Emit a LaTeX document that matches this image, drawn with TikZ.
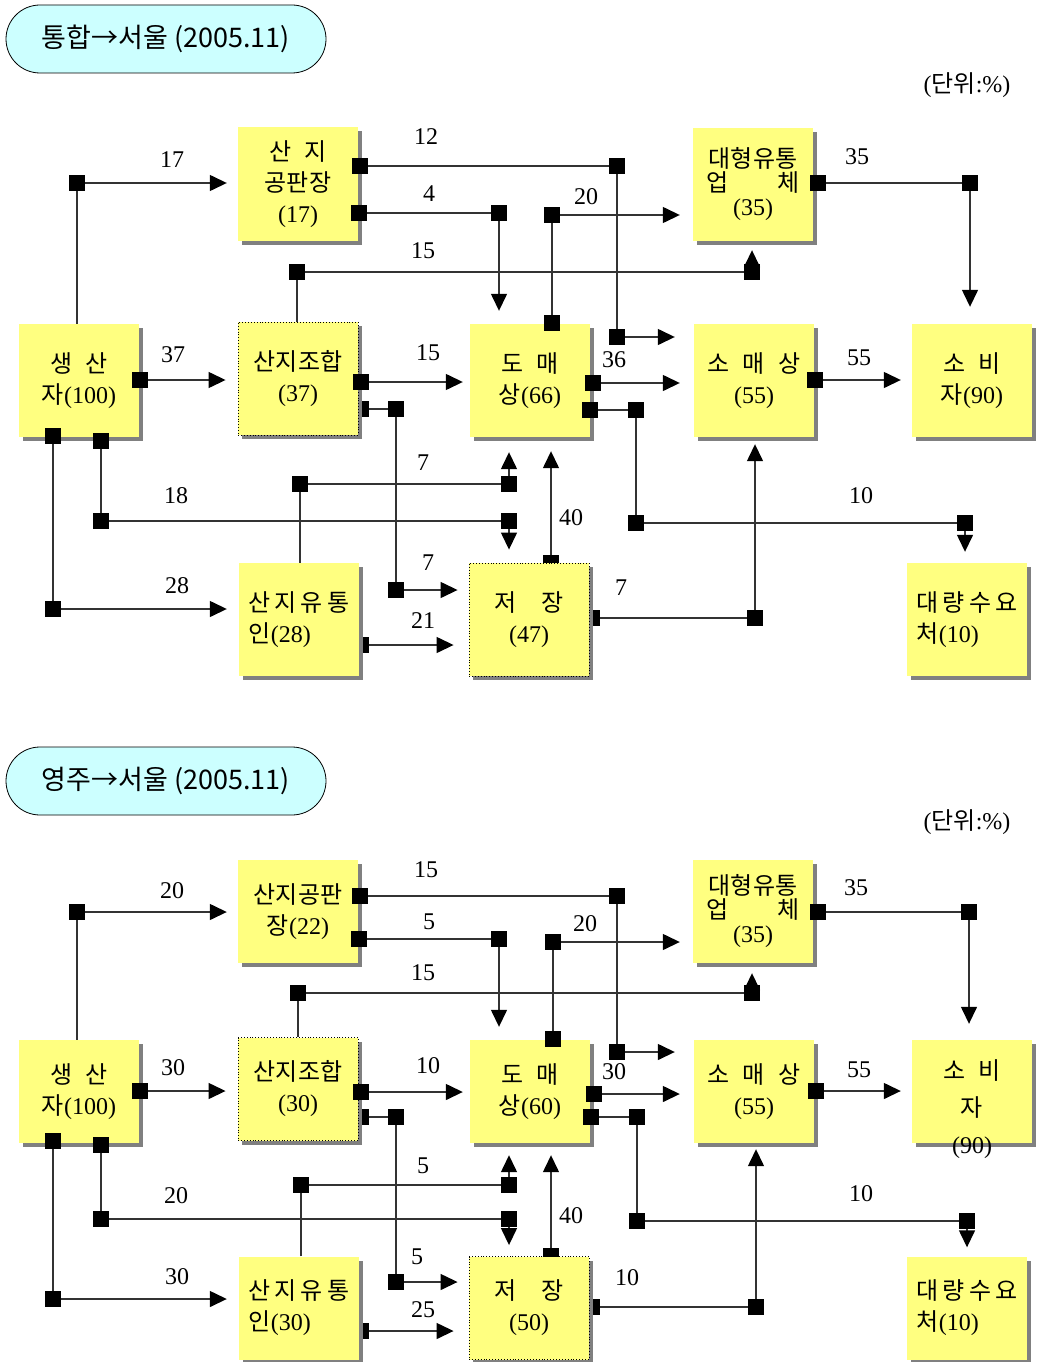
\documentclass[tikz,border=0pt]{standalone}
\usepackage{fontspec}
\setmainfont{Liberation Serif}
\newfontfamily\hangul{Noto Sans CJK KR}
\usetikzlibrary{arrows.meta,shadows}

\newcommand\ko[1]{{\hangul #1}}
\newcommand\gap{\hspace{.55em}}

\definecolor{boxyellow}{RGB}{255,255,128}
\definecolor{shadegray}{RGB}{128,128,128}
\definecolor{pillcyan}{RGB}{204,255,255}

\tikzset{
  box/.style={fill=boxyellow, minimum width=120pt, minimum height=#1, inner sep=0pt,
    align=center, font=\fontsize{24}{31}\selectfont,
    general shadow={fill=shadegray, shadow xshift=4pt, shadow yshift=-4pt}},
  box/.default=113pt,
  dotbox/.style={draw=black, dotted, line width=0.9pt},
  sq/.style={fill=black, inner sep=0pt, minimum size=16pt},
  link/.style={draw=black!80, line width=1.4pt},
  arr/.style={link, -{Triangle[length=17pt,width=16pt,color=black]}},
  num/.style={inner sep=0pt, font=\fontsize{24}{28}\selectfont},
  pill/.style={draw=black, line width=0.8pt, fill=pillcyan, rounded corners=34pt,
    minimum width=320pt, minimum height=68pt, font=\hangul\fontsize{27}{30}\selectfont},
  unit/.style={inner sep=0pt, font=\fontsize{24}{28}\selectfont}
}

\begin{document}
\begin{tikzpicture}[x=1pt,y=-1pt]
\useasboundingbox (0,0) rectangle (1037,1362);

%%%%%%%%%%%%%%%% upper chart
\node[pill] (ttl1) at (166,39) {통합→서울 (2005.11)};
\node[unit] (unit1) at (967,85) {(\ko{단위}:\%)};

% markers that sit behind the boxes
\node[sq] (coopT1) at (361,409) {};
\node[sq] (tradT1) at (361,645) {};
\node[sq] (stT1) at (551,563) {};
\node[sq] (stR1) at (592,618) {};

\node[box] (prod1) at (79,380.5) {\ko{생\gap 산}\\\ko{자}(100)};
\node[box] (pan1) at (298,184) {\ko{산\gap 지}\\\ko{공판장}\\(17)};
\node[box, dotbox] (coop1) at (298,378.5) {\ko{산지조합}\\(37)};
\node[box, align=left] (trad1) at (299,619.5) {\ko{산\,지\,유\,통}\\\ko{인}(28)};
\node[box] (whole1) at (530,380.5) {\ko{도\gap 매}\\\ko{상}(66)};
\node[box, dotbox] (store1) at (529,619.5) {\ko{저\hspace{1em}장}\\(47)};
\node[box, font=\fontsize{24}{24}\selectfont] (large1) at (753,184.5) {\ko{대형유통}\\\ko{업\hspace{2em}체}\\(35)};
\node[box] (retail1) at (754,380.5) {\ko{소\gap 매\gap 상}\\(55)};
\node[box] (cons1) at (972,380.5) {\ko{소\gap 비}\\\ko{자}(90)};
\node[box, align=left] (bulk1) at (967,619.5) {\ko{대\,량\,수\,요}\\\ko{처}(10)};

% producer
\node[sq] (toPan1) at (77,183) {};
\draw[link] (prod1.north -| toPan1) -- (toPan1);
\draw[arr, shorten >=11pt] (toPan1) -- (toPan1 -| pan1.west);
\node[sq] (toCoop1) at (140,380) {};
\draw[arr, shorten >=12pt] (toCoop1) -- (toCoop1 -| coop1.west);
\node[sq] (prodL1) at (53,436) {};
\node[sq] (toTrad1) at (53,609) {};
\draw[link] (prodL1) -- (toTrad1);
\draw[arr, shorten >=12pt] (toTrad1) -- (toTrad1 -| trad1.west);
\node[sq] (prodR1) at (101,441) {};
\node[sq] (toStA1) at (101,521) {};
\node[sq] (toStB1) at (509,521) {};
\draw[link] (prodR1) -- (toStA1) -- (toStB1);
\draw[arr, shorten >=13pt] (toStB1) -- (toStB1 |- store1.north);

% packing house
\node[sq] (panA1) at (360,166) {};
\node[sq] (panB1) at (617,166) {};
\node[sq] (panC1) at (617,337) {};
\draw[link] (panA1) -- (panB1) -- (panC1);
\draw[arr, shorten >=19pt] (panC1) -- (panC1 -| retail1.west);
\node[sq] (panD1) at (359,213) {};
\node[sq] (panE1) at (499,213) {};
\draw[link] (panD1) -- (panE1);
\draw[arr, shorten >=13pt] (panE1) -- (panE1 |- whole1.north);

% cooperative
\node[sq] (coopA1) at (297,272) {};
\node[sq] (coopB1) at (752,272) {};
\draw[link] (coop1.north -| coopA1) -- (coopA1) -- (coopB1);
\draw[arr, shorten >=9pt] (coopB1) -- (coopB1 |- large1.south);
\node[sq] (coopC1) at (361,382) {};
\draw[arr, shorten >=7pt] (coopC1) -- (coopC1 -| whole1.west);
\node[sq] (coopD1) at (396,409) {};
\node[sq] (coopE1) at (396,590) {};
\draw[link] (coopT1) -- (coopD1) -- (coopE1);
\draw[arr, shorten >=11pt] (coopE1) -- (coopE1 -| store1.west);

% local traders
\node[sq] (tradA1) at (300,484) {};
\node[sq] (tradB1) at (509,484) {};
\draw[link] (trad1.north -| tradA1) -- (tradA1) -- (tradB1);
\draw[arr, shorten >=15pt] (tradB1) -- (tradB1 |- whole1.south);
\draw[arr, shorten >=15pt] (tradT1) -- (tradT1 -| store1.west);

% wholesalers
\node[sq] (whA1) at (552,323) {};
\node[sq] (whB1) at (552,215) {};
\draw[link] (whA1) -- (whB1);
\draw[arr, shorten >=13pt] (whB1) -- (whB1 -| large1.west);
\node[sq] (whC1) at (593,383) {};
\draw[arr, shorten >=14pt] (whC1) -- (whC1 -| retail1.west);
\node[sq] (whD1) at (590,410) {};
\node[sq] (whE1) at (636,410) {};
\node[sq] (whF1) at (636,523) {};
\node[sq] (whG1) at (965,523) {};
\draw[link] (whD1) -- (whE1) -- (whF1) -- (whG1);
\draw[arr, shorten >=11pt] (whG1) -- (whG1 |- bulk1.north);

% storage
\draw[arr, shorten >=14pt] (stT1) -- (stT1 |- whole1.south);
\node[sq] (stB1) at (755,618) {};
\draw[link] (stR1) -- (stB1);
\draw[arr, shorten >=7pt] (stB1) -- (stB1 |- retail1.south);

% large retailers, retailers
\node[sq] (lgA1) at (818,183) {};
\node[sq] (lgB1) at (970,183) {};
\draw[link] (lgA1) -- (lgB1);
\draw[arr, shorten >=17pt] (lgB1) -- (lgB1 |- cons1.north);
\node[sq] (rtA1) at (815,380) {};
\draw[arr, shorten >=11pt] (rtA1) -- (rtA1 -| cons1.west);

% shares
\node[num] (lbPan1) at (172,160) {17};
\node[num] (lbCoop1) at (173,355) {37};
\node[num] (lbTrad1) at (177,586) {28};
\node[num] (lbSt1) at (176,496) {18};
\node[num] (lbPanA1) at (426,137) {12};
\node[num] (lbPanD1) at (429,194) {4};
\node[num] (lbCoopA1) at (423,251) {15};
\node[num] (lbCoopC1) at (428,353) {15};
\node[num] (lbCoopE1) at (428,563) {7};
\node[num] (lbTradA1) at (423,463) {7};
\node[num] (lbTradT1) at (423,621) {21};
\node[num] (lbWhB1) at (586,197) {20};
\node[num] (lbWhC1) at (614,360) {36};
\node[num] (lbWhG1) at (861,496) {10};
\node[num] (lbStT1) at (571,518) {40};
\node[num] (lbStB1) at (621,588) {7};
\node[num] (lbLg1) at (857,157) {35};
\node[num] (lbRt1) at (859,358) {55};

%%%%%%%%%%%%%%%% lower chart
\node[pill] (ttl2) at (166,781) {영주→서울 (2005.11)};
\node[unit] (unit2) at (967,822) {(\ko{단위}:\%)};

% markers that sit behind the boxes
\node[sq] (coopT2) at (361,1117) {};
\node[sq] (tradT2) at (361,1331) {};
\node[sq] (stT2) at (551,1256) {};
\node[sq] (stR2) at (592,1307) {};

\node[box=103pt] (prod2) at (79,1091.5) {\ko{생\gap 산}\\\ko{자}(100)};
\node[box=103pt] (pan2) at (298,911.5) {\ko{산지공판}\\\ko{장}(22)};
\node[box=103pt, dotbox] (coop2) at (298,1089) {\ko{산지조합}\\(30)};
\node[box=103pt, align=left] (trad2) at (299,1308) {\ko{산\,지\,유\,통}\\\ko{인}(30)};
\node[box=103pt] (whole2) at (530,1091.5) {\ko{도\gap 매}\\\ko{상}(60)};
\node[box=103pt, dotbox] (store2) at (529,1308) {\ko{저\hspace{1em}장}\\(50)};
\node[box=103pt, font=\fontsize{24}{24}\selectfont] (large2) at (753,911.5) {\ko{대형유통}\\\ko{업\hspace{2em}체}\\(35)};
\node[box=103pt] (retail2) at (754,1091.5) {\ko{소\gap 매\gap 상}\\(55)};
\node[box=103pt] (cons2) at (972,1091.5) {};
\node[align=center, inner sep=0pt, font=\fontsize{24}{37}\selectfont] (cons2t) at (972,1109) {\ko{소\gap 비}\\\ko{자}\\(90)};
\node[box=103pt, align=left] (bulk2) at (967,1308) {\ko{대\,량\,수\,요}\\\ko{처}(10)};

% producer
\node[sq] (toPan2) at (77,912) {};
\draw[link] (prod2.north -| toPan2) -- (toPan2);
\draw[arr, shorten >=11pt] (toPan2) -- (toPan2 -| pan2.west);
\node[sq] (toCoop2) at (140,1091) {};
\draw[arr, shorten >=12pt] (toCoop2) -- (toCoop2 -| coop2.west);
\node[sq] (prodL2) at (53,1141) {};
\node[sq] (toTrad2) at (53,1299) {};
\draw[link] (prodL2) -- (toTrad2);
\draw[arr, shorten >=12pt] (toTrad2) -- (toTrad2 -| trad2.west);
\node[sq] (prodR2) at (101,1145) {};
\node[sq] (toStA2) at (101,1219) {};
\node[sq] (toStB2) at (509,1219) {};
\draw[link] (prodR2) -- (toStA2) -- (toStB2);
\draw[arr, shorten >=11pt] (toStB2) -- (toStB2 |- store2.north);

% packing house
\node[sq] (panA2) at (360,896) {};
\node[sq] (panB2) at (617,896) {};
\node[sq] (panC2) at (617,1052) {};
\draw[link] (panA2) -- (panB2) -- (panC2);
\draw[arr, shorten >=19pt] (panC2) -- (panC2 -| retail2.west);
\node[sq] (panD2) at (359,939) {};
\node[sq] (panE2) at (499,939) {};
\draw[link] (panD2) -- (panE2);
\draw[arr, shorten >=13pt] (panE2) -- (panE2 |- whole2.north);

% cooperative
\node[sq] (coopA2) at (298,993) {};
\node[sq] (coopB2) at (752,993) {};
\draw[link] (coop2.north -| coopA2) -- (coopA2) -- (coopB2);
\draw[arr, shorten >=10pt] (coopB2) -- (coopB2 |- large2.south);
\node[sq] (coopC2) at (361,1092) {};
\draw[arr, shorten >=7pt] (coopC2) -- (coopC2 -| whole2.west);
\node[sq] (coopD2) at (396,1117) {};
\node[sq] (coopE2) at (396,1282) {};
\draw[link] (coopT2) -- (coopD2) -- (coopE2);
\draw[arr, shorten >=11pt] (coopE2) -- (coopE2 -| store2.west);

% local traders
\node[sq] (tradA2) at (301,1185) {};
\node[sq] (tradB2) at (509,1185) {};
\draw[link] (trad2.north -| tradA2) -- (tradA2) -- (tradB2);
\draw[arr, shorten >=12pt] (tradB2) -- (tradB2 |- whole2.south);
\draw[arr, shorten >=15pt] (tradT2) -- (tradT2 -| store2.west);

% wholesalers
\node[sq] (whA2) at (553,1039) {};
\node[sq] (whB2) at (553,942) {};
\draw[link] (whA2) -- (whB2);
\draw[arr, shorten >=13pt] (whB2) -- (whB2 -| large2.west);
\node[sq] (whC2) at (594,1094) {};
\draw[arr, shorten >=14pt] (whC2) -- (whC2 -| retail2.west);
\node[sq] (whD2) at (591,1117) {};
\node[sq] (whE2) at (637,1117) {};
\node[sq] (whF2) at (637,1221) {};
\node[sq] (whG2) at (967,1221) {};
\draw[link] (whD2) -- (whE2) -- (whF2) -- (whG2);
\draw[arr, shorten >=9pt] (whG2) -- (whG2 |- bulk2.north);

% storage
\draw[arr, shorten >=12pt] (stT2) -- (stT2 |- whole2.south);
\node[sq] (stB2) at (756,1307) {};
\draw[link] (stR2) -- (stB2);
\draw[arr, shorten >=6pt] (stB2) -- (stB2 |- retail2.south);

% large retailers, retailers
\node[sq] (lgA2) at (818,912) {};
\node[sq] (lgB2) at (969,912) {};
\draw[link] (lgA2) -- (lgB2);
\draw[arr, shorten >=16pt] (lgB2) -- (lgB2 |- cons2.north);
\node[sq] (rtA2) at (816,1091) {};
\draw[arr, shorten >=11pt] (rtA2) -- (rtA2 -| cons2.west);

% shares
\node[num] (lbPan2) at (172,891) {20};
\node[num] (lbCoop2) at (173,1068) {30};
\node[num] (lbTrad2) at (177,1277) {30};
\node[num] (lbSt2) at (176,1196) {20};
\node[num] (lbPanA2) at (426,870) {15};
\node[num] (lbPanD2) at (429,922) {5};
\node[num] (lbCoopA2) at (423,973) {15};
\node[num] (lbCoopC2) at (428,1066) {10};
\node[num] (lbCoopE2) at (417,1257) {5};
\node[num] (lbTradA2) at (423,1166) {5};
\node[num] (lbTradT2) at (423,1310) {25};
\node[num] (lbWhB2) at (585,924) {20};
\node[num] (lbWhC2) at (614,1072) {30};
\node[num] (lbWhG2) at (861,1194) {10};
\node[num] (lbStT2) at (571,1216) {40};
\node[num] (lbStB2) at (627,1278) {10};
\node[num] (lbLg2) at (856,888) {35};
\node[num] (lbRt2) at (859,1070) {55};
\end{tikzpicture}
\end{document}
